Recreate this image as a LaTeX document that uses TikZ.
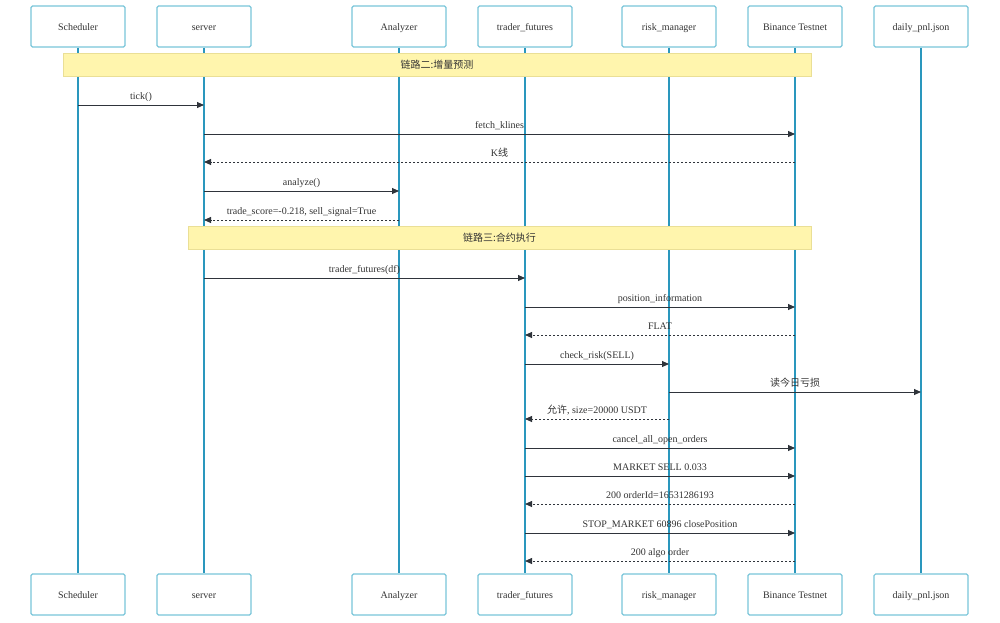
\documentclass[tikz,border=0pt]{standalone}
\usepackage{fontspec}
\setmainfont{Liberation Serif}
\newfontfamily\cjk{Noto Sans CJK SC}
\usepackage{xcolor}
\usepackage{tikz}
\usetikzlibrary{arrows.meta}
\definecolor{actorline}{HTML}{78C4D8}
\definecolor{lifeline}{HTML}{2A97BD}
\definecolor{msgline}{HTML}{2F343B}
\definecolor{notefill}{HTML}{FFF5AD}
\definecolor{notedraw}{HTML}{EADF96}
\definecolor{txt}{HTML}{333333}

\begin{document}
\begin{tikzpicture}[
    x=1pt, y=1pt,
    >={Triangle[length=7pt,width=6pt]},
    every node/.style={font=\fontsize{10}{12}\selectfont,text=txt},
    actor/.style={draw=actorline,line width=1.1pt,rounded corners=1.5pt,
      minimum width=94pt,minimum height=41pt,inner sep=0pt,
      text height=9.5pt,text depth=2pt},
    life/.style={draw=lifeline,line width=1.4pt},
    note/.style={fill=notefill,draw=notedraw,line width=0.8pt,
      minimum height=23pt,inner sep=0pt,text height=9.5pt,text depth=2pt},
    call/.style={draw=msgline,line width=0.9pt,->},
    reply/.style={call,dash pattern=on 2pt off 2pt},
    lbl/.style={above=2pt,inner sep=1pt,text height=7pt,text depth=2pt}
  ]
    \useasboundingbox (0,0) rectangle (1000,-622);
    \foreach \n/\x/\t in {sch/78/Scheduler, srv/204/server, ana/399/Analyzer,
        trd/525/trader\_futures, risk/669/risk\_manager,
        bnc/795/Binance Testnet, pnl/921/daily\_pnl.json} {
      \node[actor] (\n-top) at (\x,-26.5) {\t};
      \node[actor] (\n-bot) at (\x,-594.5) {\t};
      \draw[life] (\n-top) -- (\n-bot);
    }
    \node[note,minimum width=748pt] (grp2) at (437,-64.5) {{\cjk 链路二:增量预测}};
    \node[note,minimum width=623pt] (grp3) at (499.5,-237.5) {{\cjk 链路三:合约执行}};
    \foreach \i/\y in {1/105,2/134,3/162,4/191,5/220,6/278,7/307,8/335,
        9/364,10/392,11/419,12/448,13/476,14/504,15/533,16/561}
      \coordinate (r\i) at (0,-\y);
    \draw[call] (sch-top |- r1) -- node[lbl] {tick()} (srv-top |- r1);
    \draw[call] (srv-top |- r2) -- node[lbl] {fetch\_klines} (bnc-top |- r2);
    \draw[reply] (bnc-top |- r3) -- node[lbl] {K{\cjk 线}} (srv-top |- r3);
    \draw[call] (srv-top |- r4) -- node[lbl] {analyze()} (ana-top |- r4);
    \draw[reply] (ana-top |- r5) -- node[lbl] {trade\_score=-0.218, sell\_signal=True} (srv-top |- r5);
    \draw[call] (srv-top |- r6) -- node[lbl] {trader\_futures(df)} (trd-top |- r6);
    \draw[call] (trd-top |- r7) -- node[lbl] {position\_information} (bnc-top |- r7);
    \draw[reply] (bnc-top |- r8) -- node[lbl] {FLAT} (trd-top |- r8);
    \draw[call] (trd-top |- r9) -- node[lbl] {check\_risk(SELL)} (risk-top |- r9);
    \draw[call] (risk-top |- r10) -- node[lbl] {{\cjk 读今日亏损}} (pnl-top |- r10);
    \draw[reply] (risk-top |- r11) -- node[lbl] {{\cjk 允许}, size=20000 USDT} (trd-top |- r11);
    \draw[call] (trd-top |- r12) -- node[lbl] {cancel\_all\_open\_orders} (bnc-top |- r12);
    \draw[call] (trd-top |- r13) -- node[lbl] {MARKET SELL 0.033} (bnc-top |- r13);
    \draw[reply] (bnc-top |- r14) -- node[lbl] {200 orderId=16531286193} (trd-top |- r14);
    \draw[call] (trd-top |- r15) -- node[lbl] {STOP\_MARKET 60896 closePosition} (bnc-top |- r15);
    \draw[reply] (bnc-top |- r16) -- node[lbl] {200 algo order} (trd-top |- r16);
  \end{tikzpicture}
\end{document}
